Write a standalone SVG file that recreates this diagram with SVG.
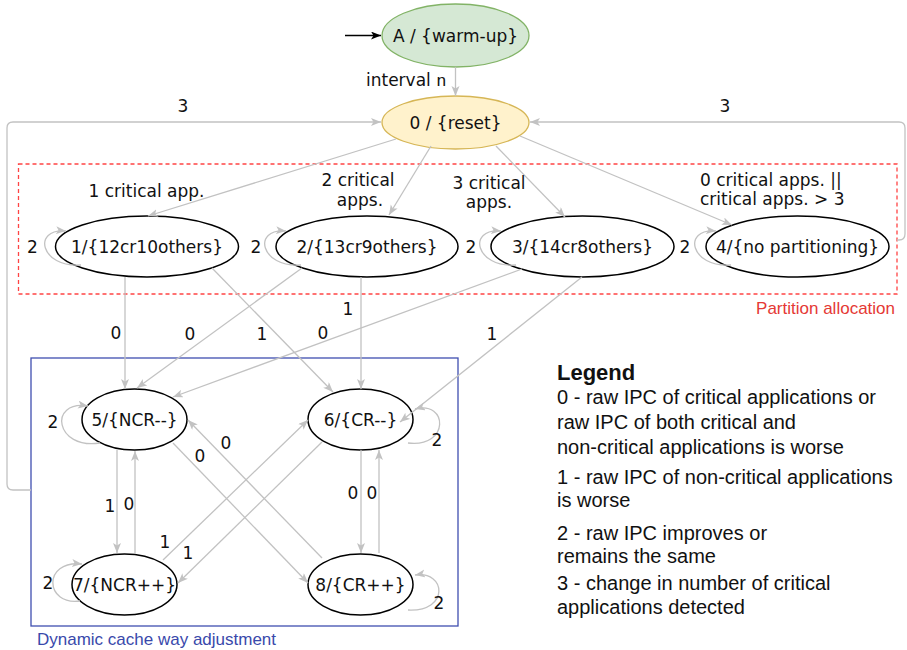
<svg xmlns="http://www.w3.org/2000/svg" width="907" height="650" viewBox="0 0 907 650">
<defs>
<marker id="ag" markerUnits="userSpaceOnUse" markerWidth="12" markerHeight="10" refX="10" refY="4" orient="auto">
<path d="M0,0 L10,4 L0,8 L2.5,4 z" fill="#c2c2c2"/>
</marker>
<marker id="ab" markerUnits="userSpaceOnUse" markerWidth="12" markerHeight="10" refX="10" refY="4" orient="auto">
<path d="M0,0 L10,4 L0,8 L2.5,4 z" fill="#000"/>
</marker>
</defs>
<style>
.n{fill:#fff;stroke:#000;stroke-width:1.5}
.t{font-family:"DejaVu Sans",Verdana,sans-serif;font-size:17px;fill:#111}
.m{text-anchor:middle}
.e{fill:none;stroke:#c2c2c2;stroke-width:1.3;marker-end:url(#ag)}
.l{fill:none;stroke:#c2c2c2;stroke-width:1.3}
.g{font-family:"Liberation Sans",Arial,sans-serif;font-size:20px;fill:#111}
</style>
<rect width="907" height="650" fill="#fff"/>
<g id="partition">
<rect x="18.5" y="164" width="878.5" height="130" fill="none" stroke="#f44" stroke-width="1.3" stroke-dasharray="4 3"/>
<text x="895" y="314" font-family="Liberation Sans,Arial,sans-serif" font-size="17" fill="#e53935" text-anchor="end">Partition allocation</text>
</g>
<g id="dynamic">
<rect x="31" y="358" width="427" height="268" fill="none" stroke="#3f4fb0" stroke-width="1.3"/>
<text x="37" y="645" font-family="Liberation Sans,Arial,sans-serif" font-size="17" fill="#3949ab">Dynamic cache way adjustment</text>
</g>
<g id="nodeA"><ellipse cx="455.5" cy="35.5" rx="73.5" ry="31.5" fill="#d5e8d4" stroke="#82b366" stroke-width="1.3"/><text class="t m" x="455.5" y="42">A / {warm-up}</text></g>
<g id="node0"><ellipse cx="455.5" cy="122.5" rx="73.5" ry="26.5" fill="#fff2cc" stroke="#d6b656" stroke-width="1.3"/><text class="t m" x="455.5" y="129">0 / {reset}</text></g>
<g id="node1"><ellipse class="n" cx="147" cy="246.5" rx="91.5" ry="30.5"/><text class="t m" x="147" y="253">1/{12cr10others}</text></g>
<g id="node2"><ellipse class="n" cx="367" cy="246.5" rx="91" ry="30.5"/><text class="t m" x="367" y="253">2/{13cr9others}</text></g>
<g id="node3"><ellipse class="n" cx="582.5" cy="246.5" rx="91.5" ry="30.5"/><text class="t m" x="582.5" y="253">3/{14cr8others}</text></g>
<g id="node4"><ellipse class="n" cx="797.5" cy="246.5" rx="91.5" ry="30.5"/><text class="t m" x="797.5" y="253">4/{no partitioning}</text></g>
<g id="node5"><ellipse class="n" cx="134.5" cy="419.5" rx="52.5" ry="30.5"/><text class="t m" x="134.5" y="426">5/{NCR--}</text></g>
<g id="node6"><ellipse class="n" cx="360.5" cy="419.5" rx="52.5" ry="30.5"/><text class="t m" x="360.5" y="426">6/{CR--}</text></g>
<g id="node7"><ellipse class="n" cx="124.5" cy="584.5" rx="52.5" ry="30.5"/><text class="t m" x="124.5" y="591">7/{NCR++}</text></g>
<g id="node8"><ellipse class="n" cx="360.5" cy="584.5" rx="52.5" ry="30.5"/><text class="t m" x="360.5" y="591">8/{CR++}</text></g>
<g id="connectors">
<line x1="345" y1="35.5" x2="381" y2="35.5" stroke="#000" stroke-width="1.3" marker-end="url(#ab)"/>
<line class="e" x1="455.5" y1="67" x2="455.5" y2="96"/>
<path class="e" d="M31,490 L13,490 Q7,490 7,484 L7,128 Q7,122 13,122 L381,122"/>
<path class="e" d="M897,240 L899,240 Q905,240 905,234 L905,128 Q905,122 899,122 L530,122"/>
<line class="e" x1="396" y1="139" x2="148" y2="216"/>
<line class="e" x1="431" y1="146" x2="389" y2="215"/>
<line class="e" x1="496" y1="146" x2="565" y2="217"/>
<line class="e" x1="520" y1="136" x2="732" y2="225"/>
<path class="e" d="M81,265 C40,268 32,228 66,231"/>
<path class="e" d="M301,265 C260,268 252,228 286,231"/>
<path class="e" d="M516,265 C475,268 467,228 501,231"/>
<path class="e" d="M731,265 C690,268 682,228 716,231"/>
<line class="e" x1="125" y1="277" x2="125" y2="389"/>
<line class="e" x1="302" y1="268" x2="137" y2="388"/>
<line class="e" x1="212" y1="268" x2="333" y2="392"/>
<line class="e" x1="522" y1="269" x2="173" y2="397"/>
<line class="e" x1="361" y1="277" x2="361" y2="389"/>
<line class="e" x1="582" y1="277" x2="400" y2="422"/>
<line class="e" x1="117" y1="450" x2="117" y2="553"/>
<line class="e" x1="135" y1="553" x2="135" y2="451"/>
<line class="e" x1="361" y1="450" x2="361" y2="553"/>
<line class="e" x1="379" y1="553" x2="379" y2="450"/>
<line class="e" x1="173" y1="443" x2="308" y2="583"/>
<line class="e" x1="322" y1="558" x2="188" y2="420"/>
<line class="e" x1="163" y1="560" x2="308" y2="420"/>
<line class="e" x1="322" y1="442" x2="178" y2="583"/>
<path class="e" d="M100,443 C55,450 48,400 88,406"/>
<path class="e" d="M408,443 C450,448 448,400 415,409"/>
<path class="e" d="M80,601 C45,606 42,560 82,564"/>
<path class="e" d="M408,610 C450,612 446,570 415,575"/>
</g>
<g id="labels" class="t">
<text x="366" y="86">interval <tspan font-family="Liberation Mono,monospace">n</tspan></text>
<text class="m" x="183" y="112">3</text>
<text class="m" x="725" y="112">3</text>
<text class="m" x="146.5" y="197">1 critical app.</text>
<text class="m" x="358" y="186">2 critical</text>
<text class="m" x="360" y="206">apps.</text>
<text class="m" x="489" y="189">3 critical</text>
<text class="m" x="489" y="208">apps.</text>
<text x="700" y="186">0 critical apps. ||</text>
<text x="700" y="205">critical apps. &gt; 3</text>
<text class="m" x="32.5" y="253">2</text>
<text class="m" x="256" y="253">2</text>
<text class="m" x="471" y="253">2</text>
<text class="m" x="685" y="253">2</text>
<text class="m" x="116" y="339">0</text>
<text class="m" x="190" y="340">0</text>
<text class="m" x="262" y="340">1</text>
<text class="m" x="323" y="339">0</text>
<text class="m" x="348" y="315">1</text>
<text class="m" x="492" y="340">1</text>
<text class="m" x="53" y="428">2</text>
<text class="m" x="437" y="446">2</text>
<text class="m" x="48" y="589">2</text>
<text class="m" x="439" y="609">2</text>
<text class="m" x="110" y="512">1</text>
<text class="m" x="129" y="510">0</text>
<text class="m" x="353" y="499">0</text>
<text class="m" x="372" y="499">0</text>
<text class="m" x="200" y="462">0</text>
<text class="m" x="226" y="449">0</text>
<text class="m" x="165" y="548">1</text>
<text class="m" x="188" y="559">1</text>
</g>
<g id="legend">
<text x="557" y="380" font-family="Liberation Sans,Arial,sans-serif" font-size="22" font-weight="bold" fill="#111">Legend</text>
<text class="g" x="557" y="404">0 - raw IPC of critical applications or</text>
<text class="g" x="557" y="429">raw IPC of both critical and</text>
<text class="g" x="557" y="454">non-critical applications is worse</text>
<text class="g" x="557" y="484">1 - raw IPC of non-critical applications</text>
<text class="g" x="557" y="507">is worse</text>
<text class="g" x="557" y="540">2 - raw IPC improves or</text>
<text class="g" x="557" y="563">remains the same</text>
<text class="g" x="557" y="590">3 - change in number of critical</text>
<text class="g" x="557" y="614">applications detected</text>
</g>
</svg>
